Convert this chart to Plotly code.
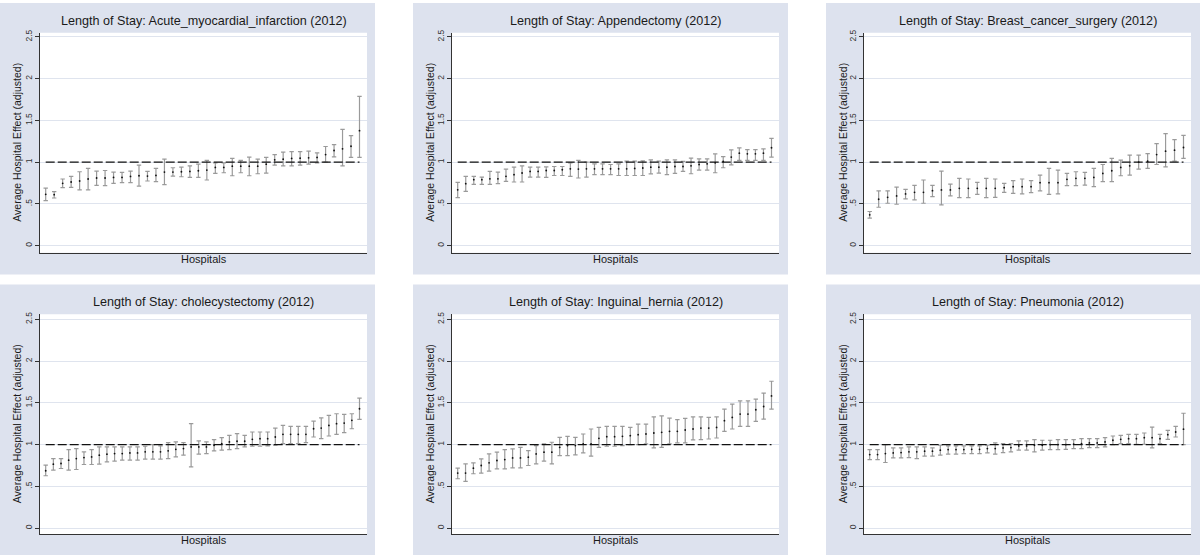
import plotly.graph_objects as go

# ---------------- data ----------------
titles = [
    "Length of Stay: Acute_myocardial_infarction (2012)",
    "Length of Stay: Appendectomy (2012)",
    "Length of Stay: Breast_cancer_surgery (2012)",
    "Length of Stay: cholecystectomy (2012)",
    "Length of Stay: Inguinal_hernia (2012)",
    "Length of Stay: Pneumonia (2012)",
]
y_tick_vals = [0, 0.5, 1, 1.5, 2, 2.5]
y_tick_text = ["0", ".5", "1", "1.5", "2", "2.5"]
reference_value = 1
x_title = "Hospitals"
y_title = "Average Hospital Effect (adjusted)"

ami_est = [0.615, 0.611, 0.746, 0.762, 0.774, 0.798, 0.810, 0.810, 0.817, 0.817, 0.829, 0.837, 0.833,
           0.841, 0.881, 0.881, 0.885, 0.889, 0.897, 0.905, 0.937, 0.937, 0.952, 0.952, 0.952, 0.952,
           0.976, 1.028, 1.036, 1.044, 1.048, 1.052, 1.056, 1.091, 1.139, 1.159, 1.190, 1.377]
ami_lo = [0.540, 0.571, 0.694, 0.698, 0.667, 0.667, 0.722, 0.718, 0.746, 0.754, 0.754, 0.714, 0.774,
          0.766, 0.730, 0.833, 0.825, 0.817, 0.817, 0.786, 0.865, 0.873, 0.837, 0.873, 0.837, 0.861,
          0.869, 0.964, 0.956, 0.956, 0.964, 0.976, 0.992, 1.000, 1.063, 0.956, 1.056, 1.058]
ami_hi = [0.690, 0.647, 0.798, 0.829, 0.885, 0.925, 0.893, 0.900, 0.881, 0.877, 0.893, 0.964, 0.889,
          0.925, 1.036, 0.933, 0.940, 0.956, 0.976, 1.020, 0.992, 0.992, 1.044, 1.020, 1.060, 1.036,
          1.056, 1.091, 1.119, 1.127, 1.127, 1.131, 1.111, 1.187, 1.210, 1.393, 1.317, 1.786]

app_est = [0.669, 0.742, 0.790, 0.790, 0.800, 0.800, 0.830, 0.850, 0.870, 0.889, 0.889, 0.900, 0.900,
           0.909, 0.920, 0.917, 0.920, 0.920, 0.920, 0.920, 0.920, 0.920, 0.925, 0.930, 0.940, 0.940,
           0.940, 0.948, 0.948, 0.956, 0.972, 0.980, 0.992, 1.008, 1.060, 1.107, 1.100, 1.100, 1.107, 1.172]
app_lo = [0.575, 0.651, 0.734, 0.734, 0.734, 0.742, 0.770, 0.762, 0.762, 0.820, 0.820, 0.817, 0.840,
          0.840, 0.830, 0.810, 0.820, 0.850, 0.850, 0.850, 0.840, 0.840, 0.840, 0.840, 0.860, 0.869,
          0.850, 0.865, 0.889, 0.861, 0.905, 0.905, 0.873, 0.933, 0.968, 1.020, 1.020, 1.020, 1.020, 1.060]
app_hi = [0.758, 0.829, 0.829, 0.820, 0.889, 0.880, 0.917, 0.940, 0.956, 0.940, 0.940, 0.944, 0.948,
          0.948, 0.992, 1.020, 1.000, 0.980, 0.980, 0.972, 0.980, 1.012, 1.012, 1.016, 1.028, 1.012,
          1.028, 1.028, 1.008, 1.048, 1.040, 1.040, 1.099, 1.067, 1.147, 1.170, 1.150, 1.150, 1.159, 1.285]

bcs_est = [0.369, 0.556, 0.579, 0.595, 0.619, 0.639, 0.639, 0.659, 0.667, 0.667, 0.687, 0.687, 0.687,
           0.687, 0.687, 0.694, 0.706, 0.706, 0.706, 0.754, 0.754, 0.754, 0.794, 0.806, 0.806, 0.817,
           0.865, 0.897, 0.937, 0.956, 1.000, 1.012, 1.091, 1.131, 1.143, 1.175]
bcs_lo = [0.329, 0.460, 0.508, 0.496, 0.560, 0.548, 0.508, 0.587, 0.488, 0.595, 0.575, 0.575, 0.615,
          0.575, 0.579, 0.639, 0.627, 0.619, 0.635, 0.655, 0.615, 0.619, 0.718, 0.718, 0.726, 0.706,
          0.766, 0.766, 0.837, 0.845, 0.917, 0.925, 0.972, 0.944, 1.012, 1.044]
bcs_hi = [0.409, 0.655, 0.655, 0.702, 0.675, 0.722, 0.786, 0.722, 0.893, 0.738, 0.806, 0.798, 0.758,
          0.806, 0.798, 0.746, 0.778, 0.798, 0.778, 0.845, 0.925, 0.905, 0.865, 0.885, 0.877, 0.925,
          0.972, 1.044, 1.024, 1.083, 1.083, 1.103, 1.222, 1.341, 1.270, 1.321]

chole_est = [0.687, 0.766, 0.774, 0.813, 0.833, 0.845, 0.853, 0.873, 0.885, 0.893, 0.893, 0.900, 0.900,
             0.913, 0.913, 0.913, 0.925, 0.944, 0.952, 0.972, 0.972, 0.972, 0.992, 1.012, 1.032, 1.040,
             1.040, 1.063, 1.071, 1.071, 1.091, 1.123, 1.123, 1.123, 1.123, 1.190, 1.198, 1.230, 1.250,
             1.258, 1.290, 1.429]
chole_lo = [0.627, 0.694, 0.714, 0.694, 0.702, 0.762, 0.762, 0.766, 0.794, 0.802, 0.813, 0.813, 0.813,
            0.825, 0.825, 0.825, 0.833, 0.853, 0.873, 0.734, 0.885, 0.893, 0.925, 0.933, 0.940, 0.952,
            0.972, 0.980, 0.980, 0.984, 0.992, 1.012, 1.012, 1.012, 1.024, 1.091, 1.071, 1.103, 1.123,
            1.143, 1.190, 1.302]
chole_hi = [0.754, 0.833, 0.833, 0.940, 0.952, 0.913, 0.940, 0.972, 0.972, 0.972, 0.972, 0.972, 0.972,
            0.980, 1.000, 0.984, 1.024, 1.032, 1.024, 1.250, 1.044, 1.032, 1.060, 1.083, 1.111, 1.131,
            1.111, 1.151, 1.151, 1.151, 1.198, 1.230, 1.218, 1.218, 1.218, 1.282, 1.321, 1.349, 1.369,
            1.361, 1.369, 1.556]

hernia_est = [0.659, 0.659, 0.718, 0.750, 0.782, 0.810, 0.821, 0.841, 0.841, 0.849, 0.889, 0.909, 0.909,
              0.968, 0.988, 0.988, 1.008, 1.008, 1.075, 1.095, 1.095, 1.099, 1.107, 1.119, 1.127, 1.139,
              1.147, 1.159, 1.159, 1.175, 1.187, 1.198, 1.198, 1.206, 1.286, 1.325, 1.365, 1.365, 1.417,
              1.456, 1.583]
hernia_lo = [0.591, 0.560, 0.651, 0.659, 0.683, 0.710, 0.710, 0.722, 0.722, 0.750, 0.770, 0.802, 0.770,
             0.869, 0.869, 0.877, 0.901, 0.861, 0.968, 0.980, 0.980, 0.988, 1.000, 1.000, 1.008, 0.960,
             0.968, 1.008, 1.020, 1.020, 1.056, 1.060, 1.067, 1.079, 1.159, 1.187, 1.218, 1.218, 1.278,
             1.306, 1.425]
hernia_hi = [0.718, 0.770, 0.782, 0.829, 0.889, 0.909, 0.940, 0.948, 0.968, 0.929, 0.988, 1.008, 1.028,
             1.087, 1.099, 1.087, 1.127, 1.187, 1.206, 1.218, 1.218, 1.218, 1.206, 1.246, 1.246, 1.333,
             1.345, 1.317, 1.298, 1.313, 1.333, 1.333, 1.325, 1.333, 1.425, 1.484, 1.524, 1.524, 1.544,
             1.615, 1.758]

pneu_est = [0.881, 0.881, 0.893, 0.900, 0.905, 0.913, 0.913, 0.921, 0.921, 0.933, 0.940, 0.940, 0.940,
            0.944, 0.944, 0.952, 0.952, 0.960, 0.964, 0.984, 0.984, 0.992, 0.992, 1.000, 1.000, 1.000,
            1.004, 1.012, 1.020, 1.020, 1.032, 1.052, 1.063, 1.071, 1.071, 1.083, 1.083, 1.071, 1.119,
            1.151, 1.185]
pneu_lo = [0.821, 0.821, 0.786, 0.841, 0.841, 0.845, 0.833, 0.861, 0.861, 0.873, 0.885, 0.885, 0.893,
           0.893, 0.893, 0.900, 0.885, 0.905, 0.913, 0.933, 0.933, 0.913, 0.933, 0.940, 0.940, 0.944,
           0.952, 0.952, 0.964, 0.964, 0.972, 1.000, 1.012, 1.012, 1.004, 1.004, 0.960, 1.012, 1.063,
           1.091, 1.000]
pneu_hi = [0.940, 0.940, 1.000, 0.960, 0.960, 0.972, 0.972, 0.972, 0.960, 0.992, 0.984, 0.984, 0.984,
           0.984, 0.984, 0.992, 1.020, 1.012, 1.012, 1.044, 1.044, 1.060, 1.052, 1.052, 1.060, 1.060,
           1.060, 1.071, 1.071, 1.071, 1.083, 1.103, 1.111, 1.123, 1.123, 1.139, 1.210, 1.123, 1.171,
           1.218, 1.375]

series = [
    (ami_est, ami_lo, ami_hi),
    (app_est, app_lo, app_hi),
    (bcs_est, bcs_lo, bcs_hi),
    (chole_est, chole_lo, chole_hi),
    (hernia_est, hernia_lo, hernia_hi),
    (pneu_est, pneu_lo, pneu_hi),
]

# ---------------- layout geometry (pixels) ----------------
W, H = 1200, 555
col_bg = [(0, 375), (413, 788), (826, 1200)]
col_plot = [(40, 367), (452, 779), (864, 1191)]
row_bg = [(0, 273), (283, 555)]
row_plot = [(30, 251), (313, 534)]
row_zero = [244, 528]
px_per_unit = 84.0

BG = "#dde2ee"
GRID = "#dfe4ee"
FONT = "Liberation Sans, Arial, sans-serif"


def px(x):
    return x / W


def py(y):
    return 1 - y / H


fig = go.Figure()
shapes = []
annotations = []

for i, (title, (est, lo, hi)) in enumerate(zip(titles, series)):
    r, c = divmod(i, 3)
    k = i + 1
    xa = "x" if k == 1 else f"x{k}"
    ya = "y" if k == 1 else f"y{k}"
    n = len(est)
    xs = list(range(1, n + 1))

    x0, x1 = col_plot[c]
    y0, y1 = row_plot[r]
    z = row_zero[r]
    spacing = (x1 - x0 - 13.2) / (n - 1)
    xr = [1 - 5.7 / spacing, n + 7.5 / spacing]
    yr = [(z - y1) / px_per_unit, (z - y0) / px_per_unit]

    # panel background + white plot region
    bx0, bx1 = col_bg[c]
    by0, by1 = row_bg[r]
    shapes.append(dict(type="rect", xref="paper", yref="paper", x0=px(bx0), x1=px(bx1),
                       y0=py(by1), y1=py(by0), fillcolor=BG, line=dict(width=0), layer="below"))
    shapes.append(dict(type="rect", xref="paper", yref="paper", x0=px(x0), x1=px(x1),
                       y0=py(y1), y1=py(y0), fillcolor="white", line=dict(width=0), layer="below"))

    # error bars with point estimates
    fig.add_trace(go.Scatter(
        x=xs, y=est, mode="markers", xaxis=xa, yaxis=ya,
        marker=dict(color="#111111", size=1.8),
        error_y=dict(type="data", symmetric=False,
                     array=[h - e for h, e in zip(hi, est)],
                     arrayminus=[e - l for e, l in zip(est, lo)],
                     color="#9a9a9a", thickness=1.2, width=2.2),
        showlegend=False, hoverinfo="skip"))
    # reference line
    fig.add_trace(go.Scatter(
        x=[1, n], y=[reference_value, reference_value], mode="lines", xaxis=xa, yaxis=ya,
        line=dict(color="#111111", width=1.2, dash="9px,3px"),
        showlegend=False, hoverinfo="skip"))

    fig.layout[f"xaxis{'' if k == 1 else k}"] = dict(
        domain=[px(x0), px(x1)], range=xr, anchor=ya, showticklabels=False, ticks="",
        showgrid=False, zeroline=False, showline=True, linecolor="#333333", linewidth=1)
    fig.layout[f"yaxis{'' if k == 1 else k}"] = dict(
        domain=[py(y1), py(y0)], range=yr, anchor=xa,
        tickvals=y_tick_vals, ticktext=y_tick_text, tickangle=-90,
        ticks="outside", ticklen=4, tickcolor="#333333", tickwidth=1,
        tickfont=dict(family=FONT, size=8.5, color="#333333"),
        showgrid=True, gridcolor=GRID, gridwidth=1, zeroline=False,
        showline=True, linecolor="#333333", linewidth=1)

    cx = (x0 + x1) / 2
    annotations.append(dict(text=title, x=px(cx), y=py(by0 + 18), xref="paper", yref="paper",
                            showarrow=False, xanchor="center", yanchor="middle",
                            font=dict(family=FONT, size=12.6, color="#1a1a1a")))
    annotations.append(dict(text=x_title, x=px(cx), y=py(by0 + 257), xref="paper", yref="paper",
                            showarrow=False, xanchor="center", yanchor="middle",
                            font=dict(family=FONT, size=11, color="#1a1a1a")))
    annotations.append(dict(text=y_title, x=px(bx0 + 17), y=py((y0 + y1) / 2), xref="paper",
                            yref="paper", showarrow=False, textangle=-90,
                            xanchor="center", yanchor="middle",
                            font=dict(family=FONT, size=10.5, color="#1a1a1a")))

fig.update_layout(
    width=W, height=H, margin=dict(l=0, r=0, t=0, b=0),
    paper_bgcolor="white", plot_bgcolor="white",
    shapes=shapes, annotations=annotations, showlegend=False,
)

fig.write_html("out.html",
               config={"displayModeBar": False, "staticPlot": True},
               post_script="document.body.style.margin='0';document.body.style.padding='0';")
